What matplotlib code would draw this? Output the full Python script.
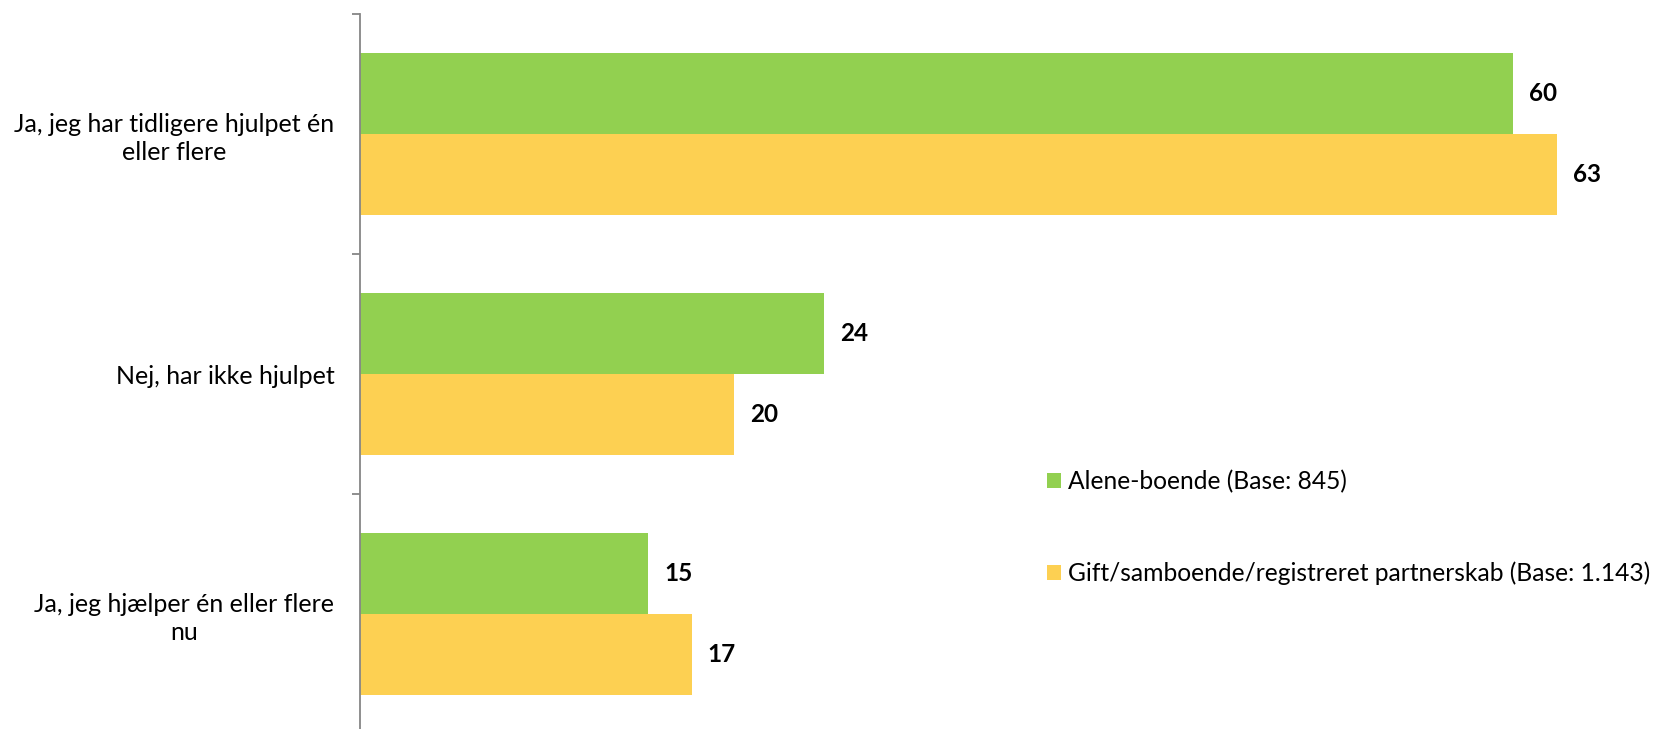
import matplotlib.pyplot as plt
import numpy as np

# categories top to bottom
categories = ['Ja, jeg har tidligere hjulpet én\neller flere',
              'Nej, har ikke hjulpet',
              'Ja, jeg hjælper én eller flere\nnu']
alene = [60.4, 24.3, 15.1]
gift = [62.7, 19.6, 17.4]
series_names = ['Alene-boende (Base: 845)',
                'Gift/samboende/registreret partnerskab (Base: 1.143)']

green = '#92D050'
yellow = '#FDD052'

plt.rcParams['font.family'] = ['Lato', 'DejaVu Sans']

W, H = 1657, 729
fig = plt.figure(figsize=(W / 100, H / 100), dpi=100)
# axes box in pixels: left 359.5, top 14, bottom 734 (just below the image)
ax = fig.add_axes([359.5 / W, (H - 734) / H, 1260 / W, 720 / H])

y = np.arange(len(categories))
h = 81 / 240
b1 = ax.barh(y - h / 2, alene, height=h, color=green, label=series_names[0])
b2 = ax.barh(y + h / 2, gift, height=h, color=yellow, label=series_names[1])

for bars, vals in ((b1, alene), (b2, gift)):
    for rect, v in zip(bars, vals):
        ax.annotate(f'{v:.0f}', (rect.get_width(), rect.get_y() + rect.get_height() / 2),
                    xytext=(16, 0), textcoords='offset pixels',
                    ha='left', va='center', fontsize=17.5, fontweight='bold')

ax.set_xlim(0, 1260 / 19.1)
ax.set_ylim(2.5, -0.5)

for s in ('top', 'right', 'bottom'):
    ax.spines[s].set_visible(False)
ax.spines['left'].set_color('#868686')
ax.spines['left'].set_linewidth(1.3)
ax.set_xticks([])
ax.set_yticks(y)
ax.set_yticklabels(categories, fontsize=18, ha='right', multialignment='center',
                   linespacing=1.25)
ax.tick_params(axis='y', which='major', length=0, pad=18)
ax.set_yticks([-0.5, 0.5, 1.5, 2.5], minor=True)
ax.tick_params(axis='y', which='minor', length=5.8, width=1.3, color='#868686')

fig.legend(handles=[b1, b2], loc='center left', bbox_to_anchor=(1047 / W, 1 - 527.5 / H),
           frameon=False, fontsize=17.7, handlelength=0.55, handleheight=0.55,
           handletextpad=0.3, labelspacing=2.8, borderpad=0, borderaxespad=0)

fig.savefig('out.png', dpi=100)
